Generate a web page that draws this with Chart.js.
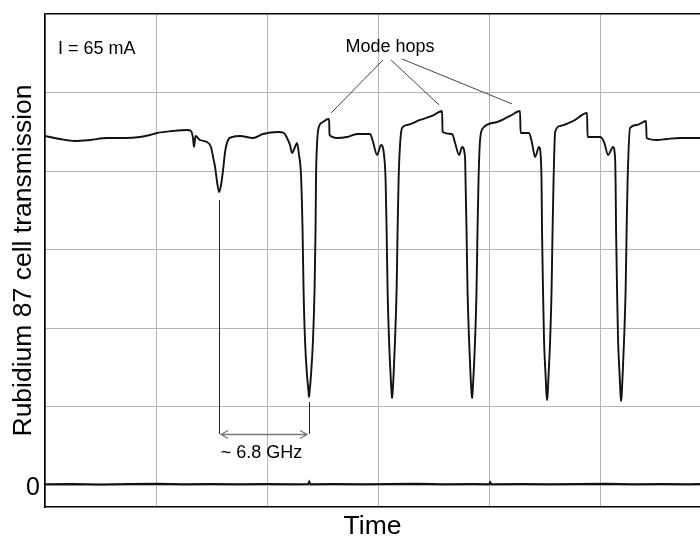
<!DOCTYPE html>
<html>
<head>
<meta charset="utf-8">
<script src="https://cdn.jsdelivr.net/npm/chart.js@4/dist/chart.umd.min.js"></script>
<style>
  html, body { margin: 0; padding: 0; background: #fff; }
  #box { width: 700px; height: 538px; }
</style>
</head>
<body>
<div id="box"><canvas id="chart"></canvas></div>
<script>
// trace: time in grid divisions, transmission in grid divisions
const traceTime = [
  0.000, 0.135, 0.270, 0.405, 0.559, 0.721, 0.856, 0.946, 1.009, 1.153, 1.279, 1.315, 1.333, 1.342, 1.356,
  1.396, 1.459, 1.495, 1.514, 1.532, 1.550, 1.568, 1.586, 1.604, 1.622, 1.649, 1.685, 1.757, 1.874, 1.964,
  2.099, 2.153, 2.180, 2.207, 2.225, 2.252, 2.270, 2.288, 2.306, 2.320, 2.329, 2.342, 2.360, 2.374, 2.378,
  2.383, 2.396, 2.414, 2.428, 2.437, 2.441, 2.450, 2.464, 2.505, 2.550, 2.559, 2.563, 2.631, 2.721, 2.811,
  2.928, 2.955, 2.991, 3.027, 3.054, 3.068, 3.077, 3.086, 3.099, 3.113, 3.122, 3.126, 3.131, 3.140, 3.153,
  3.167, 3.176, 3.185, 3.198, 3.216, 3.261, 3.378, 3.486, 3.577, 3.581, 3.667, 3.694, 3.730, 3.757, 3.784,
  3.788, 3.797, 3.806, 3.820, 3.833, 3.842, 3.847, 3.851, 3.860, 3.874, 3.887, 3.896, 3.905, 3.919, 3.946,
  4.072, 4.189, 4.279, 4.284, 4.360, 4.387, 4.414, 4.450, 4.468, 4.473, 4.477, 4.486, 4.495, 4.509, 4.518,
  4.523, 4.527, 4.536, 4.550, 4.563, 4.572, 4.581, 4.595, 4.640, 4.757, 4.883, 4.887, 5.000, 5.036, 5.072,
  5.117, 5.135, 5.140, 5.144, 5.153, 5.162, 5.176, 5.185, 5.189, 5.194, 5.203, 5.216, 5.230, 5.239, 5.248,
  5.270, 5.333, 5.414, 5.419, 5.514, 5.604, 5.721, 5.901
];
const traceSignal = [
  4.446, 4.408, 4.382, 4.395, 4.420, 4.420, 4.433, 4.459, 4.484, 4.510, 4.522, 4.510, 4.420, 4.306, 4.446,
  4.395, 4.369, 4.306, 4.178, 4.051, 3.860, 3.732, 3.822, 4.013, 4.242, 4.395, 4.433, 4.446, 4.420, 4.471,
  4.497, 4.484, 4.420, 4.331, 4.229, 4.306, 4.357, 4.204, 3.949, 3.248, 2.484, 1.847, 1.401, 1.185, 1.121,
  1.185, 1.401, 1.847, 2.484, 3.248, 3.885, 4.331, 4.548, 4.624, 4.662, 4.662, 4.459, 4.420, 4.433, 4.471,
  4.471, 4.369, 4.204, 4.331, 4.204, 3.885, 3.248, 2.484, 1.847, 1.401, 1.172, 1.108, 1.172, 1.401, 1.847,
  2.484, 3.248, 3.885, 4.331, 4.548, 4.586, 4.650, 4.701, 4.764, 4.497, 4.471, 4.357, 4.204, 4.306, 4.166,
  3.885, 3.248, 2.484, 1.847, 1.401, 1.172, 1.108, 1.172, 1.401, 1.847, 2.484, 3.248, 3.885, 4.395, 4.548,
  4.624, 4.701, 4.764, 4.484, 4.484, 4.357, 4.178, 4.306, 4.115, 3.822, 3.248, 2.484, 1.847, 1.401, 1.146,
  1.083, 1.146, 1.401, 1.847, 2.484, 3.248, 3.885, 4.497, 4.573, 4.637, 4.739, 4.433, 4.433, 4.369, 4.204,
  4.306, 4.166, 3.822, 3.248, 2.484, 1.847, 1.401, 1.134, 1.070, 1.134, 1.401, 1.847, 2.484, 3.248, 3.885,
  4.548, 4.586, 4.637, 4.420, 4.395, 4.408, 4.420, 4.420
];

// dark (zero) level trace
const zeroTime = [0, 0.25, 0.5, 0.75, 1.0, 1.25, 1.5, 1.75, 2.0, 2.25, 2.37, 2.38, 2.39, 2.6, 2.85,
  3.1, 3.35, 3.6, 3.85, 4.0, 4.01, 4.02, 4.3, 4.55, 4.8, 5.05, 5.3, 5.55, 5.8, 5.9];
const zeroSignal = [0.010, 0.014, 0.008, 0.012, 0.015, 0.009, 0.013, 0.011, 0.014, 0.010, 0.012, 0.040, 0.010, 0.013, 0.009,
  0.012, 0.015, 0.010, 0.013, 0.011, 0.035, 0.011, 0.014, 0.009, 0.012, 0.015, 0.010, 0.013, 0.011, 0.012];

const xGridTicks = [0, 1, 2, 3, 4, 5];
const yGridTicks = [0, 1, 2, 3, 4, 5, 6];
const yTickLabels = ['0', '', '', '', '', '', ''];

const FONT = "'Liberation Sans', Arial, Helvetica, sans-serif";

// annotations, in data units
const notes = {
  current: { text: 'I = 65 mA', x: 0.117, y: 5.548 },
  hops: { text: 'Mode hops', x: 3.108, y: 5.580 },
  leaders: [
    [3.045, 5.414, 2.577, 4.739],
    [3.117, 5.414, 3.550, 4.841],
    [3.216, 5.427, 4.207, 4.854]
  ],
  marks: [
    [1.568, 3.631, 1.568, 0.650],
    [2.378, 1.057, 2.378, 0.650]
  ],
  span: { x1: 1.586, x2: 2.360, y: 0.650 },
  ghz: { text: '~ 6.8 GHz', x: 1.950, y: 0.408 }
};

const notePlugin = {
  id: 'notes',
  afterDatasetsDraw(chart) {
    const { ctx, scales: { x, y } } = chart;
    const px = v => x.getPixelForValue(v);
    const py = v => y.getPixelForValue(v);
    ctx.save();
    ctx.fillStyle = '#000';
    ctx.font = '18px ' + FONT;
    ctx.textBaseline = 'middle';
    ctx.textAlign = 'left';
    ctx.fillText(notes.current.text, px(notes.current.x), py(notes.current.y));
    ctx.textAlign = 'center';
    ctx.fillText(notes.hops.text, px(notes.hops.x), py(notes.hops.y));
    ctx.fillText(notes.ghz.text, px(notes.ghz.x), py(notes.ghz.y));

    ctx.strokeStyle = '#444';
    ctx.lineWidth = 1;
    notes.leaders.forEach(l => {
      ctx.beginPath();
      ctx.moveTo(px(l[0]), py(l[1]));
      ctx.lineTo(px(l[2]), py(l[3]));
      ctx.stroke();
    });
    ctx.strokeStyle = '#222';
    notes.marks.forEach(l => {
      ctx.beginPath();
      ctx.moveTo(Math.round(px(l[0])) + 0.5, py(l[1]));
      ctx.lineTo(Math.round(px(l[2])) + 0.5, py(l[3]));
      ctx.stroke();
    });

    // double arrow
    const ax1 = px(notes.span.x1), ax2 = px(notes.span.x2), ay = Math.round(py(notes.span.y)) + 0.5;
    ctx.strokeStyle = '#777';
    ctx.lineWidth = 1.3;
    ctx.beginPath();
    ctx.moveTo(ax1, ay); ctx.lineTo(ax2, ay);
    ctx.moveTo(ax1 + 7, ay - 4); ctx.lineTo(ax1, ay); ctx.lineTo(ax1 + 7, ay + 4);
    ctx.moveTo(ax2 - 7, ay - 4); ctx.lineTo(ax2, ay); ctx.lineTo(ax2 - 7, ay + 4);
    ctx.stroke();
    ctx.restore();
  }
};

new Chart(document.getElementById('chart'), {
  type: 'line',
  data: {
    datasets: [
      {
        data: traceTime.map((t, i) => ({ x: t, y: traceSignal[i] })),
        borderColor: '#111',
        borderWidth: 1.9,
        pointRadius: 0,
        cubicInterpolationMode: 'monotone'
      },
      {
        data: zeroTime.map((t, i) => ({ x: t, y: zeroSignal[i] })),
        borderColor: '#111',
        borderWidth: 2,
        pointRadius: 0,
        tension: 0
      }
    ]
  },
  options: {
    responsive: true,
    maintainAspectRatio: false,
    devicePixelRatio: 1,
    animation: false,
    layout: { padding: { top: 14, left: 0, right: 0, bottom: 0 } },
    plugins: {
      legend: { display: false },
      tooltip: { enabled: false }
    },
    scales: {
      x: {
        type: 'linear',
        min: 0,
        max: 5.9,
        afterBuildTicks: s => { s.ticks = xGridTicks.map(v => ({ value: v })); },
        afterFit: s => { s.height = 31; s.paddingLeft = 0; s.paddingRight = 0; },
        ticks: { display: false },
        grid: { color: '#b4b4b4', lineWidth: 1, drawTicks: false },
        border: { display: true, color: '#000', width: 1.6 },
        title: {
          display: true,
          text: 'Time',
          color: '#000',
          font: { family: FONT, size: 26.5, lineHeight: 0.85 },
          padding: 0
        }
      },
      y: {
        type: 'linear',
        min: -0.28,
        max: 6,
        afterBuildTicks: s => { s.ticks = yGridTicks.map(v => ({ value: v })); },
        afterFit: s => { s.width = 45; s.paddingTop = 0; s.paddingBottom = 0; },
        ticks: {
          color: '#000',
          padding: 5,
          labelOffset: 3,
          font: { family: FONT, size: 25 },
          callback: (v, i) => yTickLabels[i]
        },
        grid: {
          color: c => c.tick && c.tick.value === 6 ? '#000' : '#b4b4b4',
          lineWidth: c => c.tick && c.tick.value === 6 ? 1.6 : 1,
          drawTicks: false
        },
        border: { display: true, color: '#000', width: 1.6 },
        title: {
          display: true,
          text: 'Rubidium 87 cell transmission',
          color: '#000',
          font: { family: FONT, size: 26.5, lineHeight: 1.2 },
          padding: { top: 8, bottom: 0 }
        }
      }
    }
  },
  plugins: [notePlugin]
});
</script>
</body>
</html>
